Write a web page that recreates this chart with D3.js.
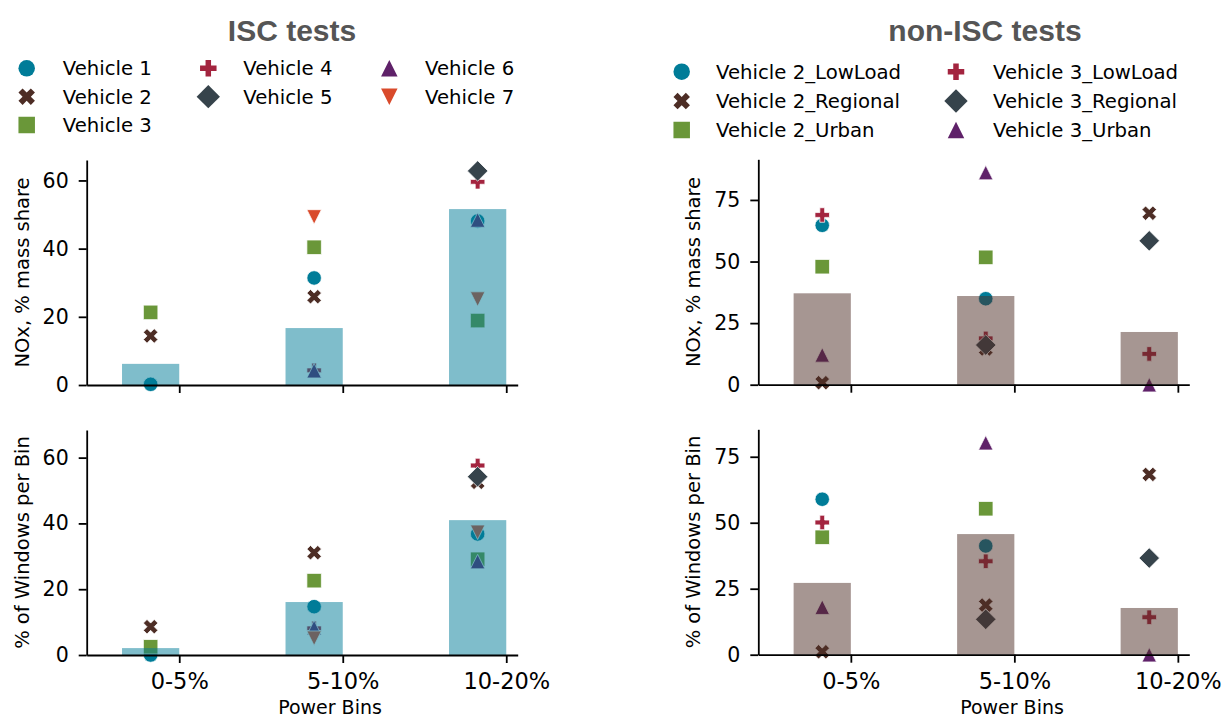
<!DOCTYPE html>
<html>
<head>
<meta charset="utf-8">
<script src="https://cdn.jsdelivr.net/npm/d3@7"></script>
<style>
  body { margin: 0; background: #fff; }
  text { font-family: "DejaVu Sans", sans-serif; fill: #000; }
</style>
</head>
<body>
<script>
// ---- data ----
const bins = ["0-5%", "5-10%", "10-20%"];

const iscVehicles = ["Vehicle 1", "Vehicle 2", "Vehicle 3", "Vehicle 4", "Vehicle 5", "Vehicle 6", "Vehicle 7"];
const iscNoxBars = [6.2, 16.7, 51.6];
const iscWinBars = [2.1, 16.1, 41.0];
// one row per vehicle, one value per bin (null = no point)
const iscNox = [
  [0.2, 31.4, 48.1],
  [14.4, 25.9, 18.9],
  [21.3, 40.4, 18.9],
  [null, 4.3, 59.6],
  [null, null, 62.8],
  [null, 4.2, 48.4],
  [null, 49.3, 25.2]
];
const iscWin = [
  [0.0, 14.7, 36.8],
  [8.6, 31.1, 52.5],
  [2.5, 22.6, 29.1],
  [null, 8.1, 57.6],
  [null, null, 54.2],
  [null, 8.3, 28.4],
  [null, 5.1, 37.3]
];

const nonVehicles = ["Vehicle 2_LowLoad", "Vehicle 2_Regional", "Vehicle 2_Urban",
                     "Vehicle 3_LowLoad", "Vehicle 3_Regional", "Vehicle 3_Urban"];
const nonNoxBars = [37.1, 36.0, 21.4];
const nonWinBars = [27.2, 45.7, 17.7];
const nonNox = [
  [64.7, 34.9, null],
  [0.8, 14.5, 69.6],
  [47.9, 51.7, null],
  [68.9, 18.8, 12.5],
  [null, 16.1, 58.4],
  [12.1, 86.1, 0.0]
];
const nonWin = [
  [58.9, 41.2, null],
  [1.1, 18.8, 68.3],
  [44.5, 55.3, null],
  [50.1, 35.4, 14.2],
  [null, 13.4, 36.6],
  [18.0, 80.3, 0.0]
];

const palette = ["#007c98", "#4d2d25", "#6a9739", "#a3243f", "#36434b", "#5f2169", "#d94a2b"];
const iscMarkers = ["circle", "x", "square", "plus", "diamond", "tri-up", "tri-down"];
const nonMarkers = ["circle", "x", "square", "plus", "diamond", "tri-up"];
const nonColors = ["#007c98", "#4d2d25", "#6a9739", "#a3243f", "#36434b", "#5f2169"];

// legend column membership (matplotlib fills columns 3/2/2)
const iscLegendCols = [[0, 1, 2], [3, 4], [5, 6]];
const nonLegendCols = [[0, 1, 2], [3, 4, 5]];

// ---- matplotlib-like marker shapes as d3 symbol types (size = width^2) ----
function poly(ctx, pts) {
  ctx.moveTo(pts[0][0], pts[0][1]);
  for (let i = 1; i < pts.length; i++) ctx.lineTo(pts[i][0], pts[i][1]);
  ctx.closePath();
}
const symbolTypes = {
  "circle": { draw(ctx, size) { const r = Math.sqrt(size) / 2; ctx.moveTo(r, 0); ctx.arc(0, 0, r, 0, 2 * Math.PI); } },
  "square": { draw(ctx, size) { const d = Math.sqrt(size); ctx.rect(-d / 2, -d / 2, d, d); } },
  "diamond": { draw(ctx, size) { const a = Math.sqrt(size) * Math.SQRT1_2; poly(ctx, [[0, -a], [a, 0], [0, a], [-a, 0]]); } },
  "tri-up": { draw(ctx, size) { const h = Math.sqrt(size) / 2; poly(ctx, [[0, -h], [h, h], [-h, h]]); } },
  "tri-down": { draw(ctx, size) { const h = Math.sqrt(size) / 2; poly(ctx, [[0, h], [h, -h], [-h, -h]]); } },
  "plus": { draw(ctx, size) {
    const s = Math.sqrt(size) / 6;
    poly(ctx, [[-1, -3], [1, -3], [1, -1], [3, -1], [3, 1], [1, 1], [1, 3], [-1, 3], [-1, 1], [-3, 1], [-3, -1], [-1, -1]].map(p => [p[0] * s, p[1] * s]));
  } },
  "x": { draw(ctx, size) {
    const s = Math.sqrt(size) / 4;
    poly(ctx, [[-1, -2], [0, -1], [1, -2], [2, -1], [1, 0], [2, 1], [1, 2], [0, 1], [-1, 2], [-2, 1], [-1, 0], [-2, -1]].map(p => [p[0] * s, p[1] * s]));
  } }
};

const W = 1225, H = 719;
const svg = d3.select("body").append("svg").attr("width", W).attr("height", H);

const markerD = 14.5;
const panelW = 431;

function drawPanel(o) {
  const x = d3.scaleLinear().domain([-0.566, 2.07]).range([o.x0, o.x0 + panelW]);
  const y = d3.scaleLinear().domain([0, o.yMax]).range([o.yBottom, o.yTop]);
  const g = svg.append("g");

  // scatter points
  o.values.forEach((row, k) => {
    g.selectAll(null)
      .data(row.map((v, i) => ({ v, i })).filter(d => d.v !== null))
      .enter()
      .append("path")
      .attr("d", d3.symbol().type(symbolTypes[o.markers[k]]).size(markerD * markerD))
      .attr("transform", d => "translate(" + x(d.i - 0.175) + "," + y(d.v) + ")")
      .attr("fill", o.colors[k])
      .attr("stroke", "#fff")
      .attr("stroke-width", 0.75);
  });

  // bars on top, half transparent
  g.selectAll(null)
    .data(o.bars)
    .enter()
    .append("rect")
    .attr("x", (d, i) => x(i - 0.35))
    .attr("width", (d, i) => x(i) - x(i - 0.35))
    .attr("y", d => y(d))
    .attr("height", d => y(0) - y(d))
    .attr("fill", o.barColor)
    .attr("opacity", 0.5);

  // axes
  const ya = g.append("g")
    .attr("transform", "translate(" + o.x0 + ",0)")
    .call(d3.axisLeft(y).tickValues(o.ticks).tickSize(8).tickSizeOuter(0).tickPadding(10));
  ya.selectAll("text").style("font-size", "20.5px");

  const xa = g.append("g")
    .attr("transform", "translate(0," + o.yBottom + ")")
    .call(d3.axisBottom(x).tickValues([0, 1, 2]).tickSize(8).tickSizeOuter(0).tickPadding(10)
      .tickFormat(i => o.showX ? bins[i] : ""));
  xa.selectAll("text").style("font-size", "22.5px");

  g.selectAll(".domain, .tick line").attr("stroke", "#000").attr("stroke-width", 1.8);

  g.append("text")
    .attr("transform", "translate(" + (o.x0 - 58) + "," + ((o.yTop + o.yBottom) / 2) + ") rotate(-90)")
    .attr("text-anchor", "middle")
    .style("font-size", "19.5px")
    .text(o.ylabel);

  if (o.showX) {
    g.append("text")
      .attr("x", o.xlabelX)
      .attr("y", 714)
      .attr("text-anchor", "middle")
      .style("font-size", "19px")
      .text("Power Bins");
  }
}

// ISC panels
drawPanel({ x0: 86.7, yTop: 160, yBottom: 385, yMax: 66.0, ticks: [0, 20, 40, 60],
  values: iscNox, markers: iscMarkers, colors: palette, bars: iscNoxBars, barColor: palette[0],
  ylabel: "NOx, % mass share", showX: false });
drawPanel({ x0: 86.7, yTop: 430, yBottom: 655, yMax: 68.4, ticks: [0, 20, 40, 60],
  values: iscWin, markers: iscMarkers, colors: palette, bars: iscWinBars, barColor: palette[0],
  ylabel: "% of Windows per Bin", showX: true, xlabelX: 330 });

// non-ISC panels
drawPanel({ x0: 758.3, yTop: 159.3, yBottom: 384.7, yMax: 91.5, ticks: [0, 25, 50, 75],
  values: nonNox, markers: nonMarkers, colors: nonColors, bars: nonNoxBars, barColor: nonColors[1],
  ylabel: "NOx, % mass share", showX: false });
drawPanel({ x0: 758.3, yTop: 429.3, yBottom: 654.7, yMax: 85.4, ticks: [0, 25, 50, 75],
  values: nonWin, markers: nonMarkers, colors: nonColors, bars: nonWinBars, barColor: nonColors[1],
  ylabel: "% of Windows per Bin", showX: true, xlabelX: 1012 });

// titles
svg.append("text").attr("x", 292).attr("y", 41).attr("text-anchor", "middle")
  .style("font-family", "'Liberation Sans', Arial, sans-serif").style("font-weight", "bold")
  .style("font-size", "30px").style("fill", "#555").text("ISC tests");
svg.append("text").attr("x", 985).attr("y", 41).attr("text-anchor", "middle")
  .style("font-family", "'Liberation Sans', Arial, sans-serif").style("font-weight", "bold")
  .style("font-size", "30px").style("fill", "#555").text("non-ISC tests");

// legends
function drawLegend(names, markers, colors, colIdx, cols, rows) {
  const g = svg.append("g");
  colIdx.forEach((members, c) => {
    members.forEach((k, r) => {
      g.append("path")
        .attr("d", d3.symbol().type(symbolTypes[markers[k]]).size(16.5 * 16.5))
        .attr("transform", "translate(" + cols[c].mx + "," + rows[r] + ")")
        .attr("fill", colors[k]);
      g.append("text")
        .attr("x", cols[c].tx).attr("y", rows[r] + 7)
        .style("font-size", "19.7px")
        .text(names[k]);
    });
  });
}
drawLegend(iscVehicles, iscMarkers, palette, iscLegendCols,
  [{ mx: 26.7, tx: 62.7 }, { mx: 208.3, tx: 243.3 }, { mx: 389.3, tx: 425 }], [68.3, 96.7, 125]);
drawLegend(nonVehicles, nonMarkers, nonColors, nonLegendCols,
  [{ mx: 681.7, tx: 716 }, { mx: 956, tx: 993 }], [71.7, 101, 130]);
</script>
</body>
</html>
